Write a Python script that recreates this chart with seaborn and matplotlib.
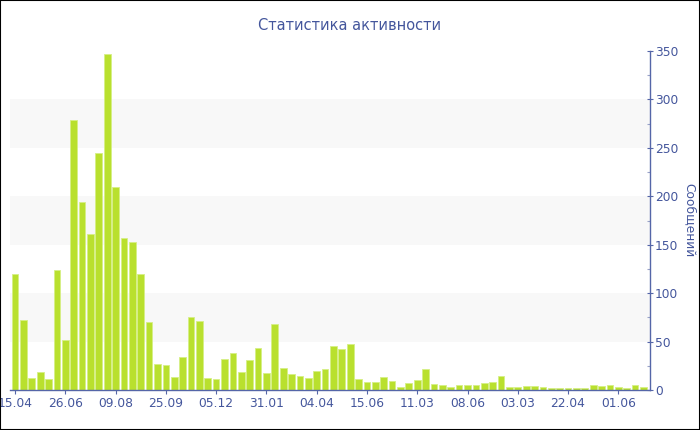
import pandas as pd
import numpy as np
import matplotlib
matplotlib.use('Agg')
import matplotlib.pyplot as plt
import seaborn as sns
from matplotlib.patches import Rectangle
from matplotlib.ticker import MultipleLocator

# Messages per period
messages = [120, 72, 12, 19, 11, 124, 52, 279, 194, 161,
            245, 347, 210, 157, 153, 120, 70, 27, 26, 13,
            34, 75, 71, 12, 11, 32, 38, 19, 31, 43,
            18, 68, 23, 17, 14, 12, 20, 22, 45, 42,
            47, 11, 8, 8, 13, 9, 3, 7, 10, 22,
            6, 5, 3, 5, 5, 5, 7, 8, 14, 3,
            3, 4, 4, 3, 2, 2, 2, 2, 2, 5,
            4, 5, 3, 2, 5, 3]
tick_labels = ['15.04', '26.06', '09.08', '25.09', '05.12', '31.01', '04.04',
               '15.06', '11.03', '08.06', '03.03', '22.04', '01.06']
tick_step = 6

df = pd.DataFrame({'bar': np.arange(len(messages)), 'messages': messages})

text_color = '#44569c'
axis_color = '#5566a8'

sns.set_style('white')
plt.rcParams['font.family'] = ['DejaVu Sans']

fig = plt.figure(figsize=(7, 4.3), dpi=100)
ax = fig.add_axes([10 / 700, 40 / 430, 640 / 700, 339 / 430])

# Alternating background bands
for lo in (50, 150, 250):
    ax.axhspan(lo, lo + 50, color='#f8f8f8', zorder=0, lw=0)

sns.barplot(data=df, x='bar', y='messages', color='#b9e02e', saturation=1,
            width=0.8, edgecolor='#d6ef86', linewidth=0.6, ax=ax, zorder=2)

ax.set_xlim(-0.6, len(messages) - 1 + 0.78)
ax.set_ylim(0, 350)

ax.set_xticks(np.arange(0, len(messages), tick_step)[:len(tick_labels)])
ax.set_xticklabels(tick_labels)
ax.yaxis.tick_right()
ax.yaxis.set_major_locator(MultipleLocator(50))
ax.yaxis.set_minor_locator(MultipleLocator(25))

ax.tick_params(axis='x', colors=axis_color, labelcolor=text_color, labelsize=8.8,
               direction='out', length=3, width=0.8, pad=2, bottom=True)
ax.tick_params(axis='y', which='major', colors=axis_color, labelcolor=text_color,
               labelsize=8.8, direction='inout', length=5, width=0.8, pad=1,
               right=True, left=False)
ax.tick_params(axis='y', which='minor', colors='#9aa3c8', direction='in',
               length=2.5, width=0.8, right=True, left=False)

for side in ('left', 'top'):
    ax.spines[side].set_visible(False)
for side in ('right', 'bottom'):
    ax.spines[side].set_color(axis_color)
    ax.spines[side].set_linewidth(1)

ax.set_xlabel('')
ax.set_ylabel('')
ax.grid(False)

fig.text(0.5, 1 - 25 / 430, 'Статистика активности', ha='center', va='center',
         fontsize=10.5, color=text_color)
fig.text(690 / 700, 1 - 220 / 430, 'Сообщений', rotation=270, ha='center',
         va='center', fontsize=8.8, color=text_color)

# Thin dark frame around the whole picture
fig.patches.append(Rectangle((0, 0), 1, 1, transform=fig.transFigure, fill=False,
                             edgecolor='black', linewidth=1.5))

fig.savefig('out.png', dpi=100)
